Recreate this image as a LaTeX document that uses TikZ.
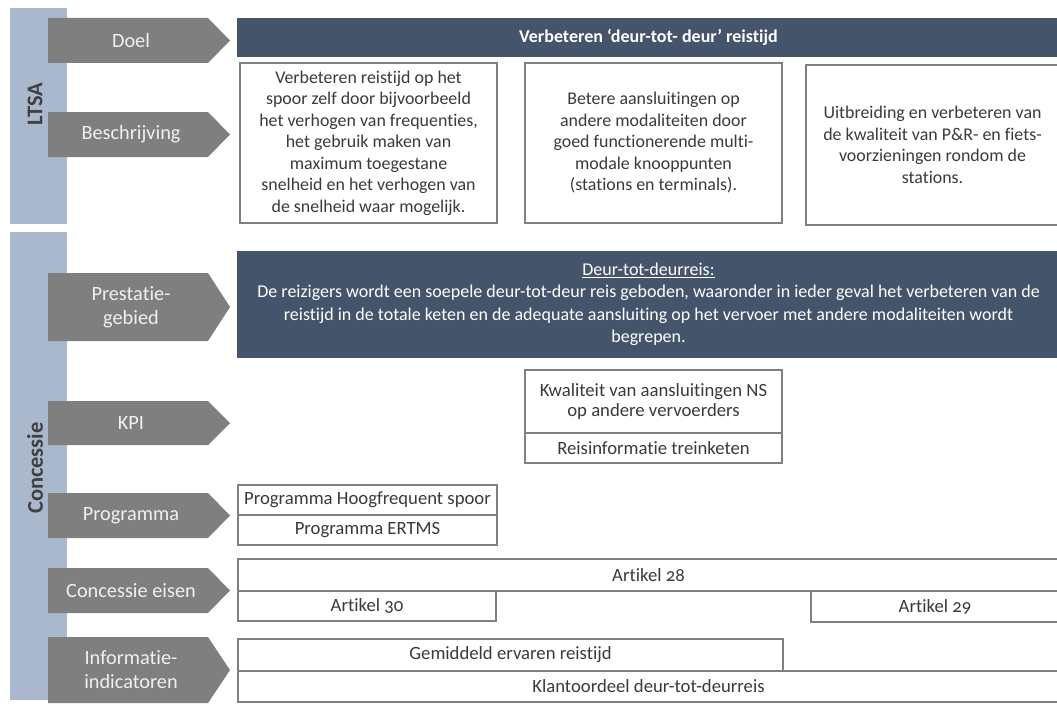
\documentclass[tikz,border=0pt]{standalone}
\usepackage{fontspec}
\setmainfont{Carlito}[Ligatures=NoCommon]
\definecolor{sidebar}{HTML}{AAB8CD}
\definecolor{arrowgray}{HTML}{7F7F7F}
\definecolor{navy}{HTML}{44546A}
\definecolor{boxline}{HTML}{808080}
\definecolor{txt}{HTML}{3A3A3A}
\definecolor{sidetxt}{HTML}{404040}
\newcommand\garrow[4]{%
  \fill[arrowst] (48,#2) -- (208,#2) -- (230,{(#2+#3)/2}) -- (208,#3) -- (48,#3) -- cycle;
  \node[arrowtxt] (#1) at (131,{(#2+#3)/2}) {#4};}
\newcommand\rbox[7][]{%
  \node[rboxst,#1,minimum width={(#5-#3)*1pt},minimum height={(#6-#4)*1pt}] (#2) at ({(#3+#5)/2},{(#4+#6)/2}) {#7};}
\begin{document}
\begin{tikzpicture}[x=1pt,y=-1pt,
  sidebarst/.style={fill=sidebar, draw=none, inner sep=0pt},
  arrowst/.style={fill=arrowgray},
  arrowtxt/.style={text=white!94!black, font=\fontsize{20.3}{24}\selectfont, align=center, inner sep=0pt},
  sidetxtst/.style={text=sidetxt, font=\bfseries\fontsize{22.5}{26}\selectfont, rotate=90, inner sep=0pt},
  rboxst/.style={draw=boxline, line width=1.3pt, fill=white, inner sep=0pt, text=txt, align=center,
    font=\fontsize{17.9}{21.5}\selectfont},
  small/.style={font=\fontsize{18.7}{20.5}\selectfont},
  navyst/.style={fill=navy, draw=navy, text=white},
]
\useasboundingbox (0,0) rectangle (1057,709);
\fill[white] (0,0) rectangle (1057,709);
% side bars
\node[sidebarst, minimum width=57pt, minimum height=216pt] (ltsabar) at (38.5,116) {};
\node[sidebarst, minimum width=57pt, minimum height=468pt] (concbar) at (38.5,466) {};
\node[sidetxtst] (ltsa) at (35,104) {LTSA};
\node[sidetxtst] (conc) at (35,468) {Concessie};
% arrows
\garrow{doel}{18}{63}{Doel}
\garrow{beschr}{112}{157}{Beschrijving}
\garrow{prest}{273}{341}{Prestatie-\\gebied}
\garrow{kpi}{401}{445}{KPI}
\garrow{progr}{493}{538}{Programma}
\garrow{eisen}{568}{613}{Concessie eisen}
\garrow{info}{637}{703}{Informatie-\\indicatoren}
% Doel bar
\rbox[navyst, font=\bfseries\fontsize{18}{21}\selectfont]{doelbar}{238}{19}{1059}{56}{Verbeteren `deur-tot- deur' reistijd}
% Beschrijving boxes
\rbox{b1}{240}{63}{497}{223}{Verbeteren reistijd op het\\spoor zelf door bijvoorbeeld\\het verhogen van frequenties,\\het gebruik maken van\\maximum toegestane\\snelheid en het verhogen van\\de snelheid waar mogelijk.}
\rbox{b2}{525}{63}{782}{223}{Betere aansluitingen op\\andere modaliteiten door\\goed functionerende multi-\\modale knooppunten\\(stations en terminals).}
\rbox{b3}{806}{65}{1059}{225}{Uitbreiding en verbeteren van\\de kwaliteit van P\&R- en fiets-\\voorzieningen rondom de\\stations.}
% Prestatiegebied
\rbox[navyst, font=\fontsize{18}{22.5}\selectfont]{prestbox}{238}{252}{1059}{357}{\underline{Deur-tot-deurreis:}\\De reizigers wordt een soepele deur-tot-deur reis geboden, waaronder in ieder geval het verbeteren van de\\reistijd in de totale keten en de adequate aansluiting op het vervoer met andere modaliteiten wordt\\begrepen.}
% KPI
\rbox[small]{kpi1}{525}{370}{782}{433}{Kwaliteit van aansluitingen NS\\op andere vervoerders}
\rbox[small]{kpi2}{525}{433}{782}{463}{Reisinformatie treinketen}
% Programma
\rbox[small]{p1}{238}{485}{497}{515}{Programma Hoogfrequent spoor}
\rbox[small]{p2}{238}{515}{497}{545}{Programma ERTMS}
% Concessie eisen
\rbox[small]{a28}{238}{559}{1059}{591}{Artikel \addfontfeatures{Numbers=OldStyle}28}
\rbox[small]{a30}{238}{591}{496}{621}{Artikel \addfontfeatures{Numbers=OldStyle}30}
\rbox[small]{a29}{811}{591}{1059}{622}{Artikel \addfontfeatures{Numbers=OldStyle}29}
% Informatie-indicatoren
\rbox[small]{gem}{238}{639}{783}{671}{Gemiddeld ervaren reistijd}
\rbox[small]{klant}{238}{671}{1059}{702}{Klantoordeel deur-tot-deurreis}
\end{tikzpicture}
\end{document}
